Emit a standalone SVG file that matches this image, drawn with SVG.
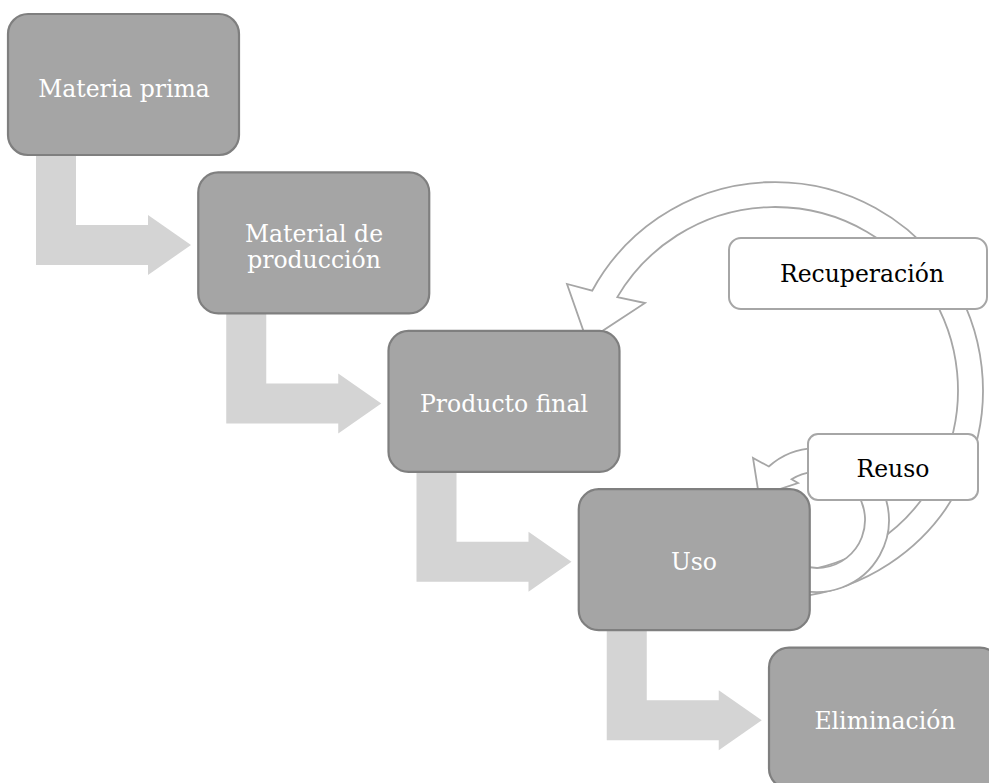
<svg xmlns="http://www.w3.org/2000/svg" width="989" height="783" viewBox="0 0 989 783">
<style>
.flow{fill:#d4d4d4;stroke:none}
.step{fill:#a5a5a5;stroke:#7f7f7f;stroke-width:2.2}
.steptext{fill:#ffffff;font-family:"DejaVu Serif","Liberation Serif",serif;font-size:23.5px;text-anchor:middle}
.cyc{fill:#ffffff;stroke:#a6a6a6;stroke-width:1.8;stroke-linejoin:miter}
.lbl{fill:#ffffff;stroke:#a6a6a6;stroke-width:2}
.lbltext{fill:#000000;font-family:"DejaVu Serif","Liberation Serif",serif;font-size:23.5px;text-anchor:middle}
</style>
<rect width="989" height="783" fill="#ffffff"/>
<g id="connectors">
<polygon class="flow" points="36,150 76,150 76,225 148,225 148,215 191,245 148,275 148,265 36,265"/>
<polygon class="flow" transform="translate(190.25,158.4)" points="36,150 76,150 76,225 148,225 148,215 191,245 148,275 148,265 36,265"/>
<polygon class="flow" transform="translate(380.5,316.8)" points="36,150 76,150 76,225 148,225 148,215 191,245 148,275 148,265 36,265"/>
<polygon class="flow" transform="translate(570.75,475.2)" points="36,150 76,150 76,225 148,225 148,215 191,245 148,275 148,265 36,265"/>
<path id="arrow-recuperacion" class="cyc" d="M 796.7 596.9 A 208 208 0 1 0 592.2 290.7 L 567 284 L 587 341 L 645 303 L 617.3 297.1 A 183 183 0 1 1 794.1 572 Z"/>
<path id="arrow-reuso" class="cyc" d="M 792.4 587.7 A 72 72 0 1 0 768.8 466.5 L 753 458 L 759 496 L 798 483 L 791.6 479.3 A 48 48 0 1 1 800.6 565.1 Z"/>
</g>
<g id="materia-prima">
<rect class="step" x="8" y="14" width="231" height="141" rx="20"/>
<text class="steptext" x="124" y="97">Materia prima</text>
</g>
<g id="material-produccion">
<rect class="step" x="198.25" y="172.4" width="231" height="141" rx="20"/>
<text class="steptext" x="314" y="242">Material de</text>
<text class="steptext" x="314" y="268">producción</text>
</g>
<g id="producto-final">
<rect class="step" x="388.5" y="330.8" width="231" height="141" rx="20"/>
<text class="steptext" x="504" y="412">Producto final</text>
</g>
<g id="uso">
<rect class="step" x="578.75" y="489.2" width="231" height="141" rx="20"/>
<text class="steptext" x="694" y="570">Uso</text>
</g>
<g id="eliminacion">
<rect class="step" x="769" y="647.6" width="231" height="141" rx="20"/>
<text class="steptext" x="885" y="729">Eliminación</text>
</g>
<g id="recuperacion">
<rect class="lbl" x="729" y="238" width="258" height="71" rx="12"/>
<text class="lbltext" x="862" y="282">Recuperación</text>
</g>
<g id="reuso">
<rect class="lbl" x="808" y="434" width="170" height="66" rx="10"/>
<text class="lbltext" x="893" y="477">Reuso</text>
</g>
</svg>
